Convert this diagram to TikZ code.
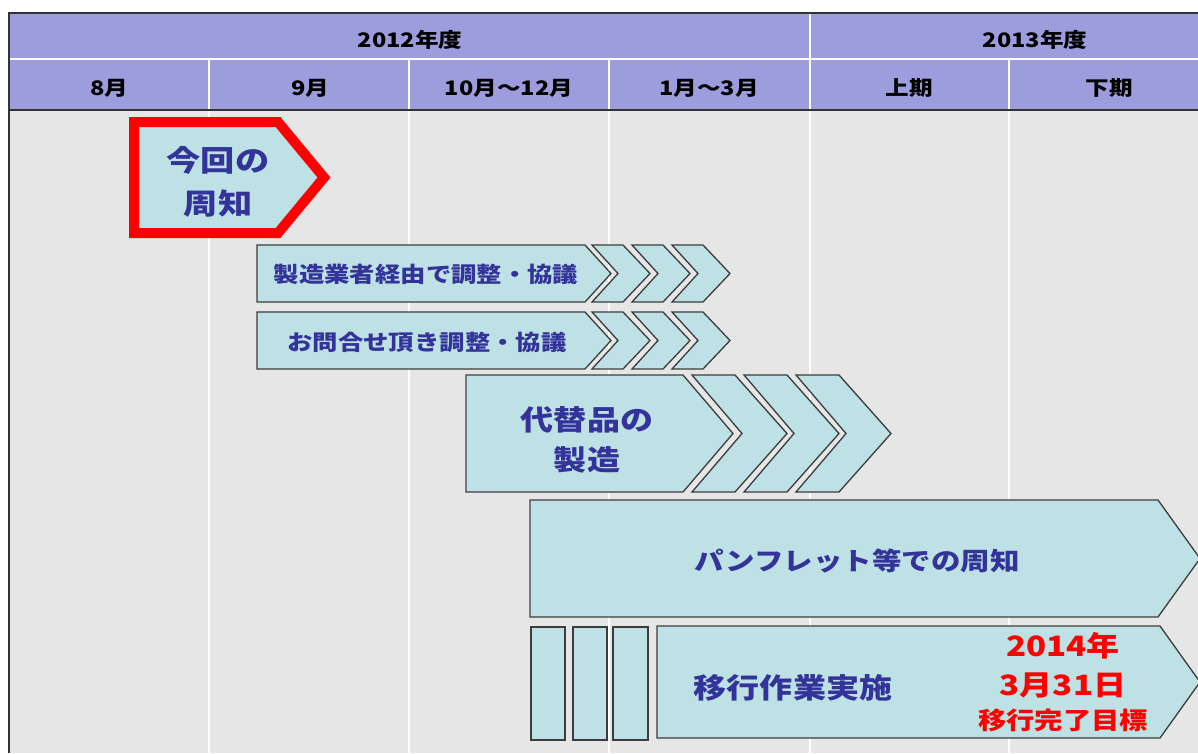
\documentclass[tikz,border=0pt]{standalone}
\usepackage{fontspec}
\usepackage{graphicx}
\newfontfamily\jp{Noto Sans CJK JP}
\definecolor{hdrfill}{RGB}{157,157,221}
\definecolor{bodyfill}{RGB}{230,230,230}
\definecolor{cyanfill}{RGB}{189,225,228}
\definecolor{edge}{RGB}{60,60,60}
\definecolor{navy}{RGB}{51,51,153}
\definecolor{redc}{RGB}{255,0,0}
\newcommand{\sx}[1]{\scalebox{1.18}[1]{#1}}
\tikzset{
  shp/.style={fill=cyanfill, draw=edge, line width=1.3pt, line join=miter},
  lbl/.style={text=navy, align=center, inner sep=0pt},
  hdr/.style={text=black, inner sep=0pt, font={\jp\bfseries\fontsize{20}{22}\selectfont}},
  grid/.style={draw=white, line width=1.3pt},
  frame/.style={draw=black!80, line width=1.5pt}
}
\begin{document}
\begin{tikzpicture}[x=1pt,y=-1pt]
\clip (0,0) rectangle (1198,753);
\fill[white] (0,0) rectangle (1198,753);
% body and header backgrounds
\fill[bodyfill] (9,110) rectangle (1198,753);
\fill[hdrfill] (9,13) rectangle (1198,110);
% grid lines
\draw[grid] (9,59) -- (1198,59);
\foreach \gx in {209,409,609,1009} {
  \draw[grid] (\gx,59) -- (\gx,110);
  \draw[grid] (\gx,111) -- (\gx,753);
}
\draw[grid] (810,13) -- (810,753);
\draw[frame] (9,13) -- (1198,13);
\draw[frame] (9,110) -- (1198,110);
\draw[frame] (9,12.25) -- (9,753);
% header texts
\node[hdr] (y2012) at (410,40) {\sx{2012年度}};
\node[hdr] (y2013) at (1035,40) {\sx{2013年度}};
\node[hdr] (m8) at (109,88) {\sx{8月}};
\node[hdr] (m9) at (310,88) {\sx{9月}};
\node[hdr] (m10) at (509,88) {\sx{10月～12月}};
\node[hdr] (m1) at (709,88) {\sx{1月～3月}};
\node[hdr] (h1) at (909,88) {\sx{上期}};
\node[hdr] (h2) at (1109,88) {\sx{下期}};
% current notice (red outlined pentagon)
\draw[fill=cyanfill, draw=redc, line width=10pt, line join=miter]
  (134,122) -- (278,122) -- (324,177.5) -- (278,233) -- (134,233) -- cycle;
\node[lbl, font={\jp\bfseries\fontsize{29}{43}\selectfont}] (now) at (218,182) {\sx{今回の}\\\sx{周知}};
% row A
\draw[shp] (257,245) -- (585,245) -- (611,273.5) -- (585,302) -- (257,302) -- cycle;
\foreach \cx in {592,632,672}
  \draw[shp] (\cx,245) -- (\cx+31,245) -- (\cx+58,273.5) -- (\cx+31,302) -- (\cx,302) -- (\cx+26,273.5) -- cycle;
\node[lbl, font={\jp\bfseries\fontsize{21.5}{24}\selectfont}] (rowa) at (426,274) {\sx{製造業者経由で調整・協議}};
% row B
\draw[shp] (257,312) -- (585,312) -- (611,340.5) -- (585,369) -- (257,369) -- cycle;
\foreach \cx in {592,632,672}
  \draw[shp] (\cx,312) -- (\cx+31,312) -- (\cx+58,340.5) -- (\cx+31,369) -- (\cx,369) -- (\cx+26,340.5) -- cycle;
\node[lbl, font={\jp\bfseries\fontsize{21.5}{24}\selectfont}] (rowb) at (427,342) {\sx{お問合せ頂き調整・協議}};
% row C
\draw[shp] (466,375) -- (683,375) -- (733,433.5) -- (683,492) -- (466,492) -- cycle;
\foreach \cx in {692,744,796}
  \draw[shp] (\cx,375) -- (\cx+43,375) -- (\cx+95,433.5) -- (\cx+43,492) -- (\cx,492) -- (\cx+50,433.5) -- cycle;
\node[lbl, font={\jp\bfseries\fontsize{28}{40}\selectfont}] (rowc) at (587,440) {\sx{代替品の}\\\sx{製造}};
% row D
\draw[shp] (530,500) -- (1158,500) -- (1200,558.5) -- (1158,617) -- (530,617) -- cycle;
\node[lbl, font={\jp\bfseries\fontsize{25}{28}\selectfont}] (rowd) at (857,561) {\sx{パンフレット等での周知}};
% row E
\draw[shp] (531,627) rectangle (565,740);
\draw[shp] (573,627) rectangle (607,740);
\draw[shp] (613,627) rectangle (648,740);
\draw[shp] (657,626) -- (1160,626) -- (1200,682) -- (1160,738) -- (657,738) -- cycle;
\node[lbl, font={\jp\bfseries\fontsize{28}{30}\selectfont}] (rowe) at (793,688) {\sx{移行作業実施}};
\node[lbl, text=redc, font={\jp\bfseries\fontsize{28}{30}\selectfont}] (d1) at (1063,646) {\sx{2014年}};
\node[lbl, text=redc, font={\jp\bfseries\fontsize{28}{30}\selectfont}] (d2) at (1063,685) {\sx{3月31日}};
\node[lbl, text=redc, font={\jp\bfseries\fontsize{24}{26}\selectfont}] (d3) at (1063,720) {\sx{移行完了目標}};
\end{tikzpicture}
\end{document}
